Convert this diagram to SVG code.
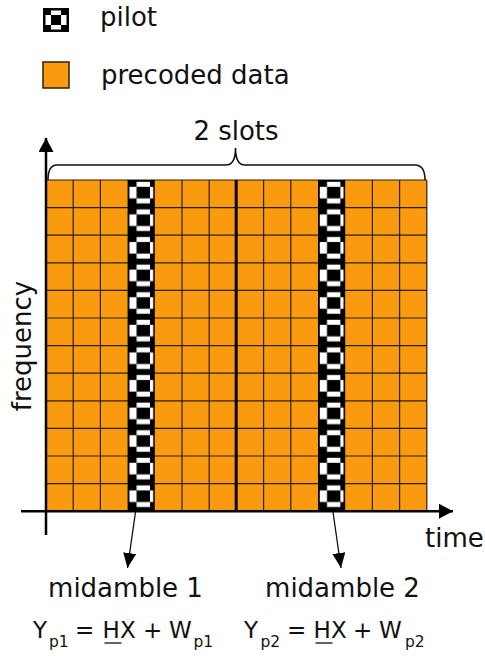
<svg xmlns="http://www.w3.org/2000/svg" width="485" height="656" viewBox="0 0 485 656">
  <style>
    .lbl { font-family: "DejaVu Sans", Verdana, sans-serif; font-size: 26px; fill: #111; }
    .eq { font-family: "DejaVu Sans", Verdana, sans-serif; font-size: 23px; fill: #111; }
    .sub { font-size: 15.5px; }
    .grid { stroke: #2a2000; stroke-width: 1.2; fill: none; }
    .axis { stroke: #000; stroke-width: 2.5; fill: none; }
    .conn { stroke: #111; stroke-width: 1.3; fill: none; }
  </style>
  <defs>
    <pattern id="pilot" patternUnits="userSpaceOnUse" x="127.6" y="180" width="27.2" height="27.6">
      <rect x="0" y="0" width="27.2" height="27.6" fill="#000"/>
      <rect x="9" y="1.8" width="13.4" height="5" fill="#fff"/>
      <rect x="1.8" y="6.8" width="7.2" height="11.6" fill="#fff"/>
      <rect x="22.4" y="6.8" width="3.2" height="11.6" fill="#fff"/>
      <rect x="9" y="18.4" width="13.4" height="5" fill="#fff"/>
    </pattern>
    <marker id="arr" markerUnits="userSpaceOnUse" markerWidth="16" markerHeight="14" refX="15" refY="6.5" orient="auto">
      <path d="M0,0 L15,6.5 L0,13 Z" fill="#000"/>
    </marker>
    <marker id="axarr" markerUnits="userSpaceOnUse" markerWidth="15" markerHeight="16" refX="14" refY="7.5" orient="auto">
      <path d="M0,0 L14,7.5 L0,15 Z" fill="#000"/>
    </marker>
  </defs>

  <g id="legend">
    <g id="legend-pilot">
      <rect x="43" y="8" width="26" height="24" fill="#000"/>
      <rect x="51" y="10.5" width="10" height="4.5" fill="#fff"/>
      <rect x="45.5" y="15" width="5.5" height="10" fill="#fff"/>
      <rect x="61" y="15" width="5.5" height="10" fill="#fff"/>
      <rect x="51" y="25" width="10" height="4.5" fill="#fff"/>
      <text class="lbl" x="100" y="26">pilot</text>
    </g>
    <g id="legend-data">
      <rect x="43" y="62" width="26" height="26" fill="#FA9A0E" stroke="#2a2000" stroke-width="1.5"/>
      <text class="lbl" x="101" y="83.5">precoded data</text>
    </g>
  </g>

  <g id="grid">
    <rect x="46" y="180" width="380.8" height="331.2" fill="#FA9A0E"/>
    <path class="grid" d="M46,180H426.8 M46,207.6H426.8 M46,235.2H426.8 M46,262.8H426.8 M46,290.4H426.8 M46,318H426.8 M46,345.6H426.8 M46,373.2H426.8 M46,400.8H426.8 M46,428.4H426.8 M46,456H426.8 M46,483.6H426.8
      M73.2,180V511 M100.4,180V511 M182,180V511 M209.2,180V511 M263.6,180V511 M290.8,180V511 M372.4,180V511 M399.6,180V511 M426.8,180V511"/>
    <rect id="pilot1" x="127.6" y="180" width="27.2" height="331.2" fill="url(#pilot)"/>
    <rect id="pilot2" x="318" y="180" width="27.2" height="331.2" fill="url(#pilot)"/>
    <line x1="236.2" y1="180" x2="236.2" y2="511" stroke="#000" stroke-width="3"/>
  </g>

  <g id="bracket">
    <path d="M48,180 Q48,165 57,165 L226,165 Q235.5,165 235.5,148 Q235.5,165 245,165 L415,165 Q425,165 425,180" stroke="#111" stroke-width="1.6" fill="none"/>
    <text class="lbl" x="236" y="140" text-anchor="middle">2 slots</text>
  </g>

  <g id="axes">
    <line class="axis" x1="46" y1="535" x2="46" y2="138" marker-end="url(#axarr)"/>
    <line class="axis" x1="21" y1="511.2" x2="453" y2="511.2" marker-end="url(#axarr)"/>
    <text class="lbl" transform="translate(31,346) rotate(-90)" text-anchor="middle">frequency</text>
    <text class="lbl" x="425" y="547">time</text>
  </g>

  <g id="connectors">
    <line class="conn" x1="135.5" y1="512" x2="127.5" y2="568" marker-end="url(#arr)"/>
    <line class="conn" x1="333" y1="512" x2="341" y2="568" marker-end="url(#arr)"/>
  </g>

  <g id="midamble1">
    <text class="lbl" x="125.5" y="597" text-anchor="middle">midamble 1</text>
    <text class="eq" y="638"><tspan x="33">Y</tspan><tspan class="sub" x="49" y="646.5">p1</tspan><tspan x="75" y="638">=</tspan><tspan x="102.5">H</tspan><tspan x="120">X</tspan><tspan x="143">+</tspan><tspan x="169">W</tspan><tspan class="sub" x="193.5" y="646.5">p1</tspan></text>
    <line x1="104.5" y1="643" x2="121.5" y2="643" stroke="#111" stroke-width="1.3"/>
  </g>
  <g id="midamble2">
    <text class="lbl" x="342.5" y="597" text-anchor="middle">midamble 2</text>
    <text class="eq" y="638"><tspan x="244">Y</tspan><tspan class="sub" x="260.5" y="646.5">p2</tspan><tspan x="287" y="638">=</tspan><tspan x="313.5">H</tspan><tspan x="331">X</tspan><tspan x="353">+</tspan><tspan x="379">W</tspan><tspan class="sub" x="405" y="646.5">p2</tspan></text>
    <line x1="315.5" y1="643" x2="332.5" y2="643" stroke="#111" stroke-width="1.3"/>
  </g>
</svg>
